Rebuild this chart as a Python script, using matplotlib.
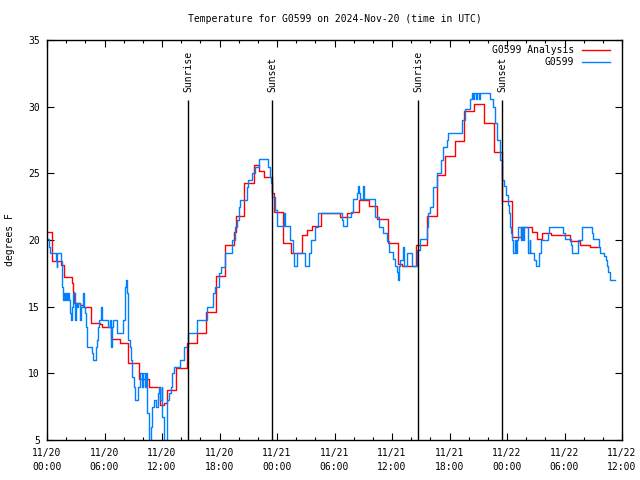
import matplotlib
matplotlib.use("Agg")
import matplotlib.pyplot as plt
import matplotlib.dates as mdates
import pandas as pd

START = pd.Timestamp("2024-11-20 00:00")

# analysis series (step values, hours after start)
red_hours = [0.0, 0.55, 1.5, 1.8, 2.6, 2.75, 2.85, 3.45, 3.8, 4.55, 5.5, 5.7, 6.65, 7.6,
             8.5, 9.6, 10.6, 11.8, 12.25, 12.5, 13.45, 14.6, 15.6, 16.6, 17.6, 18.6,
             19.55, 19.7, 20.6, 21.6, 22.1, 22.6, 23.5, 23.7, 24.6, 25.5, 26.6, 27.1,
             27.6, 28.6, 30.6, 31.3, 31.8, 32.6, 33.6, 34.4, 35.6, 36.65, 37.0, 38.5,
             39.6, 40.7, 41.5, 42.6, 43.5, 44.55, 45.6, 46.6, 47.5, 48.55, 49.5, 50.6,
             51.1, 51.7, 52.6, 54.6, 55.6, 56.7, 57.6]
red_temp = [20.6, 18.4, 18.1, 17.2, 16.8, 16.1, 15.25, 15.1, 14.95, 13.8, 13.67, 13.5,
            12.6, 12.25, 10.75, 9.55, 8.95, 7.6, 7.8, 8.75, 10.4, 12.25, 13.0, 14.6,
            17.3, 19.6, 20.6, 21.8, 24.3, 25.6, 25.2, 24.7, 23.5, 22.1, 19.75, 19.0,
            20.4, 20.75, 21.05, 22.0, 21.7, 22.0, 22.1, 23.0, 22.55, 21.55, 19.8, 18.2,
            18.05, 19.6, 21.8, 24.9, 26.3, 27.45, 29.7, 30.2, 28.75, 26.6, 22.9, 20.25,
            20.95, 20.6, 20.1, 20.55, 20.4, 19.95, 19.6, 19.45, 19.45]

# station observations
blue_hours = [0.0, 0.2, 0.35, 0.95, 1.0, 1.05, 1.45, 1.55, 1.65, 1.8, 1.9, 2.0, 2.1, 2.2,
              2.3, 2.4, 2.5, 2.6, 2.75, 2.92, 3.02, 3.1, 3.27, 3.44, 3.55, 3.79, 3.9,
              3.97, 4.03, 4.14, 4.66, 4.8, 5.08, 5.18, 5.29, 5.4, 5.6, 5.7, 6.4, 6.6,
              6.7, 6.8, 6.92, 7.3, 7.97, 8.1, 8.2, 8.3, 8.42, 8.66, 8.8, 8.9, 9.11, 9.18,
              9.46, 9.7, 9.9, 10.0, 10.2, 10.3, 10.4, 10.6, 10.85, 11.0, 11.2, 11.35,
              11.55, 11.7, 11.8, 11.95, 12.05, 12.2, 12.5, 12.75, 12.9, 13.0, 13.2, 13.9,
              14.3, 14.75, 15.7, 16.65, 17.3, 17.55, 17.95, 18.15, 18.6, 19.3, 19.6,
              19.8, 20.0, 20.15, 20.85, 21.0, 21.35, 21.7, 22.15, 23.1, 23.27, 23.4,
              23.51, 23.79, 24.03, 24.75, 24.85, 25.36, 25.7, 25.81, 26.05, 26.92,
              27.34, 27.55, 27.97, 28.31, 30.75, 30.85, 31.27, 31.69, 31.97, 32.31,
              32.49, 32.6, 32.66, 33.0, 33.1, 34.22, 34.68, 35.1, 35.44, 35.72, 36.07,
              36.31, 36.55, 36.66, 36.75, 36.84, 37.18, 37.3, 37.53, 38.05, 38.64,
              38.92, 39.62, 39.8, 40.0, 40.25, 40.7, 41.1, 41.35, 41.7, 41.8, 43.27,
              43.6, 44.14, 44.31, 44.5, 44.6, 44.8, 44.9, 45.05, 45.19, 46.23, 46.5,
              46.75, 47.0, 47.27, 47.45, 47.69, 47.86, 48.07, 48.21, 48.31, 48.42,
              48.56, 48.66, 48.84, 48.91, 49.01, 49.18, 49.46, 49.6, 49.7, 49.81,
              50.23, 50.35, 50.45, 50.85, 50.99, 51.34, 51.55, 52.31, 52.42, 53.88,
              54.05, 54.68, 54.75, 55.45, 55.86, 56.84, 57.01, 57.6, 57.7, 58.16,
              58.33, 58.44, 58.57, 58.75, 59.27]
blue_temp = [20.05, 19.5, 19.0, 18.4, 18.0, 19.0, 18.4, 16.5, 15.5, 16.0, 15.5, 16.0, 15.5,
             16.0, 15.5, 14.5, 14.0, 15.0, 16.0, 14.0, 15.25, 15.0, 15.25, 14.0, 15.0,
             16.0, 15.0, 14.5, 13.5, 12.0, 11.5, 11.0, 12.0, 12.5, 13.5, 14.0, 15.0,
             14.0, 13.5, 14.0, 12.0, 13.5, 14.0, 13.0, 14.0, 16.5, 17.0, 16.0, 12.5,
             12.0, 11.0, 9.75, 9.0, 8.0, 9.0, 10.0, 9.0, 10.0, 9.0, 10.0, 7.0, 4.5,
             6.0, 7.5, 8.0, 7.5, 8.5, 9.0, 8.0, 9.0, 6.75, 4.5, 8.0, 8.5, 9.0, 10.0,
             10.5, 11.0, 12.0, 13.0, 14.0, 15.0, 16.0, 16.5, 17.5, 18.0, 19.0, 20.0,
             21.0, 21.5, 22.5, 23.0, 24.0, 24.5, 25.0, 25.5, 26.05, 25.5, 24.75, 24.25,
             23.25, 22.25, 21.05, 22.0, 21.05, 20.0, 19.0, 18.05, 19.0, 18.05, 19.0,
             20.0, 21.0, 22.0, 21.5, 21.05, 21.75, 22.1, 23.05, 23.5, 24.05, 23.5,
             23.05, 24.05, 23.05, 21.75, 21.0, 20.5, 19.9, 19.1, 18.55, 18.05, 17.6,
             17.0, 18.05, 18.5, 19.5, 18.05, 19.0, 18.05, 19.25, 20.05, 21.0, 22.0,
             22.5, 24.0, 25.0, 26.0, 27.0, 27.5, 28.0, 29.0, 29.8, 30.55, 31.05, 30.55,
             31.05, 30.55, 31.05, 30.55, 31.05, 30.55, 30.0, 28.75, 27.5, 26.0, 24.5,
             24.05, 23.4, 22.6, 22.0, 21.0, 20.5, 20.0, 19.0, 20.0, 19.0, 20.0, 21.0,
             20.0, 21.0, 20.0, 21.0, 19.0, 20.0, 19.0, 18.5, 18.05, 19.0, 20.0, 20.5,
             21.0, 20.5, 20.05, 19.6, 19.05, 20.0, 21.0, 20.5, 20.05, 19.5, 19.05,
             18.8, 18.5, 18.05, 17.6, 17.0, 17.0]

sun_times = ["2024-11-20 14:45", "2024-11-20 23:29", "2024-11-21 14:45", "2024-11-21 23:30"]
sun_labels = ["Sunrise", "Sunset", "Sunrise", "Sunset"]

FONT = "DejaVu Sans Mono"
plt.rcParams["font.family"] = FONT
plt.rcParams["font.size"] = 7

red_t = START + pd.to_timedelta(red_hours, unit="h")
blue_t = START + pd.to_timedelta(blue_hours, unit="h")

fig = plt.figure(figsize=(6.4, 4.8), dpi=100)
ax = fig.add_axes([47 / 640, 40 / 480, 575 / 640, 400 / 480])

ax.step(red_t, red_temp, where="post", color="#ff0000", lw=1.0)
ax.step(blue_t, blue_temp, where="post", color="#0080ff", lw=1.0)

for st, lab in zip(sun_times, sun_labels):
    t = pd.Timestamp(st)
    ax.vlines(t, 5, 30.5, color="black", lw=1.0)
    ax.text(t, 31.1, lab, rotation=90, ha="center", va="bottom", fontsize=7)

ax.set_xlim(START, START + pd.Timedelta(hours=60))
ax.set_ylim(5, 35)
ax.set_yticks(range(5, 36, 5))
ax.xaxis.set_major_locator(mdates.HourLocator(byhour=[0, 6, 12, 18]))
ax.xaxis.set_minor_locator(mdates.HourLocator(interval=2))
ax.xaxis.set_major_formatter(mdates.DateFormatter("%m/%d\n%H:%M"))
ax.tick_params(which="both", direction="in", top=True, right=True, labelsize=7)
ax.tick_params(which="major", length=5, width=0.8)
ax.tick_params(which="minor", length=2.5, width=0.8)
ax.tick_params(axis="x", pad=6)
ax.tick_params(axis="y", pad=5)
for lbl in ax.get_xticklabels():
    lbl.set_linespacing(1.5)
for sp in ax.spines.values():
    sp.set_linewidth(1.0)

# gnuplot-style key, right aligned
key = [("G0599 Analysis", "#ff0000"), ("G0599", "#0080ff")]
for i, (name, col) in enumerate(key):
    yy = 0.975 - i * 0.031
    ax.text(0.9165, yy, name, transform=ax.transAxes, ha="right", va="center", fontsize=7)
    ax.plot([0.930, 0.979], [yy, yy], transform=ax.transAxes, color=col, lw=1.0)

fig.text(334.5 / 640, 1 - 19 / 480, "Temperature for G0599 on 2024-Nov-20 (time in UTC)",
         ha="center", va="center", fontsize=7)
fig.text(10 / 640, 0.5, "degrees F", rotation=90, ha="center", va="center", fontsize=7)

fig.savefig("out.png", dpi=100)
